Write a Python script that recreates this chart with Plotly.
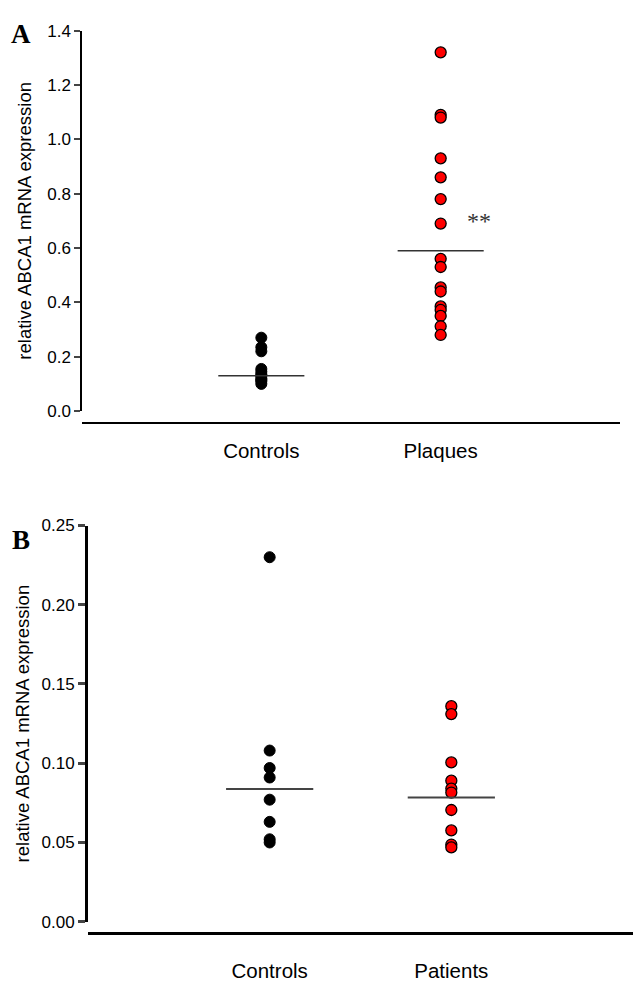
import plotly.graph_objects as go

# ---------------- data ----------------
cats_a = ["Controls", "Plaques"]
controls_a = [0.27, 0.235, 0.22, 0.155, 0.145, 0.135, 0.13, 0.12, 0.115, 0.11, 0.10]
plaques_a = [1.32, 1.09, 1.08, 0.93, 0.86, 0.78, 0.69, 0.56, 0.53, 0.455, 0.44,
             0.385, 0.372, 0.35, 0.312, 0.28]
median_a = [0.13, 0.59]

cats_b = ["Controls", "Patients"]
controls_b = [0.230, 0.108, 0.097, 0.091, 0.077, 0.063, 0.052, 0.050]
patients_b = [0.136, 0.131, 0.1005, 0.089, 0.084, 0.0815, 0.0705, 0.0576, 0.0487, 0.0469]
median_b = [0.0838, 0.0784]

ticks_a = [0.0, 0.2, 0.4, 0.6, 0.8, 1.0, 1.2, 1.4]
ticks_b = [0.00, 0.05, 0.10, 0.15, 0.20, 0.25]

W, H = 633, 983
def py(px):
    return 1 - px / H

FONT = "Liberation Sans, Arial, sans-serif"
fig = go.Figure()

# ---------------- panel A ----------------
fig.add_trace(go.Scatter(x=[1] * len(controls_a), y=controls_a, mode="markers",
                         marker=dict(size=11, color="black", line=dict(color="black", width=1)),
                         xaxis="x", yaxis="y", showlegend=False))
fig.add_trace(go.Scatter(x=[2] * len(plaques_a), y=plaques_a, mode="markers",
                         marker=dict(size=11, color="#ff0000", line=dict(color="black", width=1.3)),
                         xaxis="x", yaxis="y", showlegend=False))
for i, m in enumerate(median_a):
    c = i + 1
    fig.add_trace(go.Scatter(x=[c - 0.24, c + 0.24], y=[m, m], mode="lines",
                             line=dict(color="#333333", width=1.5),
                             xaxis="x", yaxis="y", showlegend=False))

# ---------------- panel B ----------------
fig.add_trace(go.Scatter(x=[1] * len(controls_b), y=controls_b, mode="markers",
                         marker=dict(size=11, color="black", line=dict(color="black", width=1)),
                         xaxis="x2", yaxis="y2", showlegend=False))
fig.add_trace(go.Scatter(x=[2] * len(patients_b), y=patients_b, mode="markers",
                         marker=dict(size=11, color="#ff0000", line=dict(color="black", width=1.3)),
                         xaxis="x2", yaxis="y2", showlegend=False))
for i, m in enumerate(median_b):
    c = i + 1
    fig.add_trace(go.Scatter(x=[c - 0.24, c + 0.24], y=[m, m], mode="lines",
                             line=dict(color="#444444", width=2),
                             xaxis="x2", yaxis="y2", showlegend=False))

fig.update_layout(
    width=W, height=H,
    margin=dict(l=0, r=0, t=0, b=0),
    paper_bgcolor="white", plot_bgcolor="white",
    font=dict(family=FONT, color="black"),
    xaxis=dict(domain=[82 / W, 620 / W], range=[0, 3], anchor="free", position=py(421.7),
               tickvals=[1, 2], ticktext=cats_a, showline=True, linecolor="black", linewidth=1.5,
               ticks="", ticklabelstandoff=10, tickfont=dict(size=20.5),
               showgrid=False, zeroline=False, fixedrange=True),
    yaxis=dict(domain=[py(410), py(22)], range=[0, 1.4], anchor="x",
               tickvals=ticks_a, tickformat=".1f", ticks="outside", ticklen=6, tickwidth=1.5,
               showline=True, linecolor="black", linewidth=1.5, tickfont=dict(size=17),
               showgrid=False, zeroline=False,
               title=dict(text="relative ABCA1 mRNA expression", font=dict(size=18.5), standoff=11)),
    xaxis2=dict(domain=[88 / W, 1.0], range=[0, 3], anchor="free", position=py(942),
                tickvals=[1, 2], ticktext=cats_b, showline=True, linecolor="black", linewidth=3,
                ticks="", ticklabelstandoff=19, tickfont=dict(size=20.5),
                showgrid=False, zeroline=False),
    yaxis2=dict(domain=[py(930.7), py(526.7)], range=[0, 0.25], anchor="x2",
                tickvals=ticks_b, tickformat=".2f", ticks="outside", ticklen=7, tickwidth=2.5,
                showline=True, linecolor="black", linewidth=3, tickfont=dict(size=17),
                showgrid=False, zeroline=False,
                title=dict(text="relative ABCA1 mRNA expression", font=dict(size=18.5), standoff=8)),
    annotations=[
        dict(text="<b>A</b>", xref="paper", yref="paper", x=9 / W, y=py(25), xanchor="left",
             yanchor="middle", showarrow=False, font=dict(family="Liberation Serif, serif", size=27)),
        dict(text="<b>B</b>", xref="paper", yref="paper", x=10 / W, y=py(541), xanchor="left",
             yanchor="middle", showarrow=False, font=dict(family="Liberation Serif, serif", size=27)),
        dict(text="**", xref="x", yref="y", x=2.215, y=0.70, showarrow=False,
             font=dict(family="Liberation Serif, serif", size=24, color="#333333")),
    ],
)

fig.write_html("out.html")
